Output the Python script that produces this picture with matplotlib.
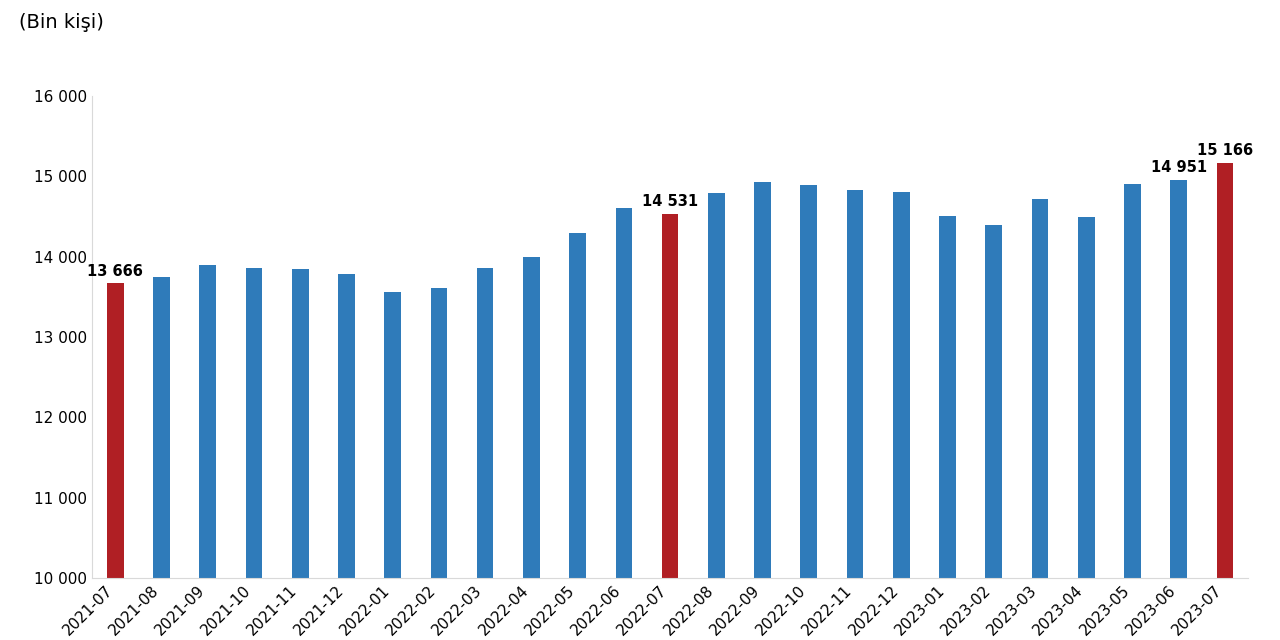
import matplotlib.pyplot as plt
import numpy as np

months = ["2021-07", "2021-08", "2021-09", "2021-10", "2021-11", "2021-12",
          "2022-01", "2022-02", "2022-03", "2022-04", "2022-05", "2022-06",
          "2022-07", "2022-08", "2022-09", "2022-10", "2022-11", "2022-12",
          "2023-01", "2023-02", "2023-03", "2023-04", "2023-05", "2023-06", "2023-07"]
values = [13666, 13750, 13890, 13860, 13840, 13790,
          13560, 13610, 13860, 14000, 14300, 14610,
          14531, 14790, 14930, 14890, 14830, 14800,
          14500, 14390, 14720, 14490, 14910, 14951, 15166]
highlight = ["2021-07", "2022-07", "2023-07"]
labelled = {"2021-07": "13 666", "2022-07": "14 531", "2023-06": "14 951", "2023-07": "15 166"}

colors = ["#B01F24" if m in highlight else "#2F7BBA" for m in months]

fig, ax = plt.subplots(figsize=(12.8, 6.4), dpi=100)
fig.subplots_adjust(left=0.072, right=0.975, top=0.85, bottom=0.097)
x = np.arange(len(months))
ax.bar(x, values, width=0.36, color=colors)
for i, m in enumerate(months):
    if m in labelled:
        ax.text(i, values[i] + 60, labelled[m], ha="center", va="bottom",
                fontsize=10.5, fontweight="bold")

ax.set_ylim(10000, 16000)
ax.set_xlim(-0.5, len(months) - 0.5)
ax.set_yticks(range(10000, 16001, 1000))
ax.set_yticklabels([f"{v:,}".replace(",", " ") for v in range(10000, 16001, 1000)], fontsize=11)
ax.set_xticks(x)
ax.set_xticklabels(months, rotation=45, ha="right", fontsize=11)
for s in ["top", "right"]:
    ax.spines[s].set_visible(False)
ax.spines["left"].set_color("#d9d9d9")
ax.spines["bottom"].set_color("#d9d9d9")
ax.tick_params(length=0)
fig.text(0.015, 0.965, "(Bin kişi)", fontsize=14, va="center")
fig.savefig("out.png")
